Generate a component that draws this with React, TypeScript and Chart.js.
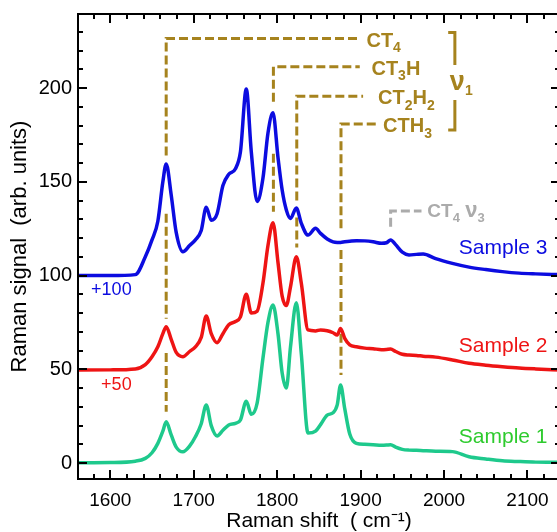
import React, { useEffect, useRef } from "react";
import { Chart, registerables } from "chart.js";

Chart.register(...registerables);

const FONT = '"Liberation Sans", Arial, Helvetica, sans-serif';

// Raman shift (cm-1) sample positions
const WAVENUMBER = [
  1562, 1600, 1630, 1642, 1650, 1657, 1663, 1667, 1673, 1679, 1687, 1695, 1702, 1709, 1715, 1721,
  1728, 1735, 1742, 1750, 1756, 1763, 1769, 1776, 1783, 1789, 1795, 1801, 1806, 1811, 1816, 1823,
  1829, 1837, 1846, 1852, 1860, 1867, 1872, 1876, 1881, 1887, 1895, 1905, 1915, 1925, 1931, 1936,
  1942, 1950, 1958, 1967, 1975, 1990, 2010, 2030, 2050, 2070, 2090, 2110, 2139,
];

// Sample 1 (no offset)
const SAMPLE_1 = [
  0.2, 0.3, 1, 2.5, 5.5, 10.5, 17, 22, 15, 8.5, 6, 9, 14, 21, 31, 20,
  14.5, 17.5, 20.3, 21.2, 23, 33, 26, 32, 56, 75, 84.3, 69, 48, 40, 62, 85.5,
  58, 16, 17, 20.5, 25.6, 26.8, 31, 41.6, 29, 15.5, 10.5, 10, 9.8, 9.5, 9.6, 9.8,
  8.5, 7.3, 6.9, 6.8, 6.6, 6.3, 6.1, 3.4, 2.2, 1.2, 0.8, 0.5, 0.4,
];

// Sample 2 (plotted with +50)
const SAMPLE_2 = [
  49.6, 49.7, 50.2, 52.5, 56.7, 62, 69, 72.7, 66, 59, 56.7, 59.5, 62, 67, 78.4, 69,
  64.2, 69, 73.8, 75.5, 78, 90, 80, 81, 96, 116, 128.2, 107, 89, 84, 94, 110,
  95.8, 71, 70.5, 71, 70.6, 69.5, 68.3, 71.8, 66.5, 63, 62, 61.3, 61, 60.5, 60.6, 60.8,
  59.5, 58, 57.6, 57.4, 57, 56.5, 55, 53.2, 52.2, 51.4, 50.7, 50.2, 49.6,
];

// Sample 3 (plotted with +100)
const SAMPLE_3 = [
  100, 100, 100.5, 110, 119, 129, 150, 159.5, 143, 123, 112.7, 116, 119, 124, 136.5, 129.5,
  133, 148, 154, 157, 166, 199.5, 166, 139.5, 152, 176, 186.8, 163, 145.6, 135, 130.5, 136,
  127.8, 121.6, 125.2, 122.5, 119.5, 118, 117.7, 117.7, 118, 118.3, 118.6, 118.5, 118, 117.2, 117.5, 119,
  116.5, 112.5, 111, 111.3, 111.5, 109, 106.5, 104.5, 103.2, 102.1, 101.3, 100.9, 100.5,
];

const SERIES_NAMES = ["Sample 1", "Sample 2", "Sample 3"];
const SERIES_VALUES = [SAMPLE_1, SAMPLE_2, SAMPLE_3];
const SERIES_COLORS = ["#1ec98c", "#ee1414", "#0c0ce0"];
const SERIES_TEXT_COLORS = ["#2ecb2e", "#ee1414", "#0c0ce0"];
const SERIES_LABEL_Y = [14, 62.5, 114.7];
const SERIES_LABEL_X = 2124;

const OFFSET_TEXTS = ["+50", "+100"];
const OFFSET_TEXT_X = [1589, 1577];
const OFFSET_TEXT_Y = [41.6, 92.3];
const OFFSET_COLORS = ["#ee1414", "#0c0ce0"];

const X_TICKS = [1600, 1700, 1800, 1900, 2000, 2100];
const Y_TICKS = [0, 50, 100, 150, 200];
const X_MIN = 1561.3;
const X_MAX = 2139;
const Y_MIN = -8.5;
const Y_MAX = 239.5;

// nu1 peak assignments
const PEAK_NAMES = ["CT_4", "CT_3H", "CT_2H_2", "CTH_3"];
const PEAK_SHIFTS = [1667, 1795.5, 1823.5, 1876.5];
const PEAK_LEVELS = [226.5, 211.4, 195.7, 180.8];
const PEAK_LEADER_END = [1897, 1899, 1903, 1919];
const PEAK_LABEL_X = [1907, 1913, 1921, 1927];
const PEAK_DROPS = [
  [[226.5, 164], [133, 77], [58.7, 27.4]],
  [[211.4, 192.7], [165, 134]],
  [[195.7, 140], [131, 115]],
  [[180.8, 125.2], [113.6, 75.4], [69, 47]],
];
const BRACKET_X = 2013;
const BRACKET_SERIF_X = 2005;
const BRACKET_UPPER = [229.6, 212.3];
const BRACKET_LOWER = [193.6, 177.6];
const NU1_TEXT = "ν_1";
const NU1_X = 2007;
const NU1_Y = 203;

// CT4 nu3
const V3_TEXT = "CT_4 ν_3";
const V3_SHIFT = 1936;
const V3_LEVEL = 134.4;
const V3_BOTTOM = 126;
const V3_LEADER_END = 1973;
const V3_LABEL_X = 1980;

const GOLD = "#a6831e";
const GREY = "#ababab";

type P = { x: number; y: number | null };

function pathData(segments: number[][][]): P[] {
  const out: P[] = [];
  segments.forEach((seg, i) => {
    if (i > 0) out.push({ x: seg[0][0], y: null });
    seg.forEach((p) => out.push({ x: p[0], y: p[1] }));
  });
  return out;
}

function drawRich(
  ctx: CanvasRenderingContext2D,
  text: string,
  x: number,
  yMid: number,
  size: number,
  color: string,
  bold: boolean,
  greekScale = 1.2
) {
  const parts: { t: string; sub: boolean }[] = [];
  for (let i = 0; i < text.length; i++) {
    if (text[i] === "_" && i + 1 < text.length) {
      parts.push({ t: text[i + 1], sub: true });
      i++;
    } else {
      const last = parts[parts.length - 1];
      if (last && !last.sub) last.t += text[i];
      else parts.push({ t: text[i], sub: false });
    }
  }
  const w = bold ? "bold " : "";
  const baseline = yMid + size * 0.36;
  let cx = x;
  ctx.fillStyle = color;
  ctx.textAlign = "left";
  ctx.textBaseline = "alphabetic";
  for (const p of parts) {
    if (p.sub) {
      const s = Math.round(size * 0.68);
      ctx.font = `${w}${s}px ${FONT}`;
      ctx.fillText(p.t, cx, baseline + size * 0.28);
      cx += ctx.measureText(p.t).width;
    } else {
      for (const ch of p.t) {
        const greek = /[\u0370-\u03ff]/.test(ch);
        const s = greek ? Math.round(size * greekScale) : size;
        ctx.font = `${w}${s}px ${FONT}`;
        ctx.fillText(ch, cx, baseline);
        cx += ctx.measureText(ch).width;
      }
    }
  }
}

const overlayPlugin = {
  id: "overlay",
  afterDatasetsDraw(chart: any) {
    const ctx: CanvasRenderingContext2D = chart.ctx;
    const xs = chart.scales.x;
    const ys = chart.scales.y;
    const { left, right, top, bottom } = chart.chartArea;
    const X = (v: number) => xs.getPixelForValue(v);
    const Y = (v: number) => ys.getPixelForValue(v);
    ctx.save();

    // frame
    ctx.strokeStyle = "#000";
    ctx.lineWidth = 2;
    ctx.strokeRect(left, top, right - left, bottom - top);

    // inward ticks
    ctx.lineWidth = 2;
    ctx.beginPath();
    for (let v = Math.ceil(X_MIN / 20) * 20; v <= X_MAX; v += 20) {
      const len = X_TICKS.includes(v) ? 9 : 5;
      const px = Math.round(X(v));
      ctx.moveTo(px, bottom);
      ctx.lineTo(px, bottom - len);
      ctx.moveTo(px, top);
      ctx.lineTo(px, top + len);
    }
    for (let v = 0; v <= Y_MAX; v += 10) {
      const len = Y_TICKS.includes(v) ? 9 : 5;
      const py = Math.round(Y(v));
      ctx.moveTo(left, py);
      ctx.lineTo(left + len, py);
      ctx.moveTo(right, py);
      ctx.lineTo(right - len, py);
    }
    ctx.stroke();

    // peak labels
    PEAK_NAMES.forEach((name, i) => {
      drawRich(ctx, name, X(PEAK_LABEL_X[i]), Y(PEAK_LEVELS[i]) + 1, 20, GOLD, true);
    });
    drawRich(ctx, NU1_TEXT, X(NU1_X), Y(NU1_Y), 20, GOLD, true, 1.35);
    drawRich(ctx, V3_TEXT, X(V3_LABEL_X), Y(V3_LEVEL) - 1, 19, GREY, true, 1.15);

    // sample labels
    ctx.font = `21px ${FONT}`;
    ctx.textAlign = "right";
    ctx.textBaseline = "middle";
    SERIES_NAMES.forEach((n, i) => {
      ctx.fillStyle = SERIES_TEXT_COLORS[i];
      ctx.fillText(n, X(SERIES_LABEL_X), Y(SERIES_LABEL_Y[i]));
    });

    // offsets
    ctx.font = `18px ${FONT}`;
    ctx.textAlign = "left";
    OFFSET_TEXTS.forEach((t, i) => {
      ctx.fillStyle = OFFSET_COLORS[i];
      ctx.fillText(t, X(OFFSET_TEXT_X[i]), Y(OFFSET_TEXT_Y[i]));
    });

    ctx.restore();
  },
};

export default function App() {
  const ref = useRef<HTMLCanvasElement>(null);
  useEffect(() => {
    const canvas = ref.current!;
    const curveSets = SERIES_NAMES.map((name, i) => ({
      label: name,
      data: WAVENUMBER.map((x, j) => ({ x, y: SERIES_VALUES[i][j] })),
      borderColor: SERIES_COLORS[i],
      borderWidth: 3.5,
      pointRadius: 0,
      cubicInterpolationMode: "monotone" as const,
      fill: false,
    })).reverse();

    const goldDashed = PEAK_SHIFTS.map((x, i) => {
      const segs: number[][][] = PEAK_DROPS[i].map((d, k) =>
        k === 0
          ? [[x, d[1]], [x, d[0]], [PEAK_LEADER_END[i], PEAK_LEVELS[i]]]
          : [[x, d[0]], [x, d[1]]]
      );
      return {
        label: "leader" + i,
        data: pathData(segs),
        borderColor: GOLD,
        borderWidth: 3,
        borderDash: [9, 4],
        pointRadius: 0,
        tension: 0,
        spanGaps: false,
        fill: false,
      };
    });

    const bracket = {
      label: "bracket",
      data: pathData([
        [[BRACKET_SERIF_X, BRACKET_UPPER[0]], [BRACKET_X, BRACKET_UPPER[0]], [BRACKET_X, BRACKET_UPPER[1]]],
        [[BRACKET_X, BRACKET_LOWER[0]], [BRACKET_X, BRACKET_LOWER[1]], [BRACKET_SERIF_X, BRACKET_LOWER[1]]],
      ]),
      borderColor: GOLD,
      borderWidth: 3,
      pointRadius: 0,
      tension: 0,
      spanGaps: false,
      fill: false,
    };

    const v3 = {
      label: "v3",
      data: pathData([[[V3_SHIFT, V3_BOTTOM], [V3_SHIFT, V3_LEVEL], [V3_LEADER_END, V3_LEVEL]]]),
      borderColor: GREY,
      borderWidth: 3,
      borderDash: [9, 4],
      pointRadius: 0,
      tension: 0,
      fill: false,
    };

    const chart = new Chart(canvas, {
      type: "line",
      data: { datasets: [...curveSets, ...goldDashed, bracket, v3] as any },
      options: {
        responsive: false,
        animation: false,
        devicePixelRatio: 1,
        events: [],
        layout: { padding: { top: 14, right: 2, left: 0, bottom: 0 } },
        plugins: { legend: { display: false }, tooltip: { enabled: false } },
        scales: {
          x: {
            type: "linear",
            min: X_MIN,
            max: X_MAX,
            afterBuildTicks: (s: any) => {
              s.ticks = X_TICKS.map((v) => ({ value: v }));
            },
            afterFit: (s: any) => {
              s.height = 53;
              s.paddingLeft = 0;
              s.paddingRight = 0;
            },
            grid: { display: false, drawTicks: false },
            border: { display: false },
            ticks: {
              font: { family: FONT, size: 19 },
              color: "#000",
              padding: 10,
              maxRotation: 0,
              autoSkip: false,
              callback: (v: any) => String(v),
            },
            title: {
              display: true,
              text: "Raman shift  ( cm\u207B\u00B9)",
              font: { family: FONT, size: 21 },
              color: "#000",
              padding: { top: 0, bottom: -2 },
            },
          },
          y: {
            type: "linear",
            min: Y_MIN,
            max: Y_MAX,
            afterBuildTicks: (s: any) => {
              s.ticks = Y_TICKS.map((v) => ({ value: v }));
            },
            afterFit: (s: any) => {
              s.width = 78;
              s.paddingTop = 0;
              s.paddingBottom = 0;
            },
            grid: { display: false, drawTicks: false },
            border: { display: false },
            ticks: {
              font: { family: FONT, size: 20 },
              color: "#000",
              padding: 6,
              callback: (v: any) => String(v),
            },
            title: {
              display: true,
              text: "Raman signal  (arb. units)",
              font: { family: FONT, size: 22 },
              color: "#000",
              padding: { top: 7, bottom: 0 },
            },
          },
        },
      },
      plugins: [overlayPlugin],
    });
    return () => chart.destroy();
  }, []);

  return (
    <div
      style={{
        position: "fixed",
        left: 0,
        top: 0,
        width: 557,
        height: 532,
        overflow: "hidden",
        background: "#fff",
      }}
    >
      <canvas ref={ref} width={562} height={532} style={{ display: "block" }} />
    </div>
  );
}
